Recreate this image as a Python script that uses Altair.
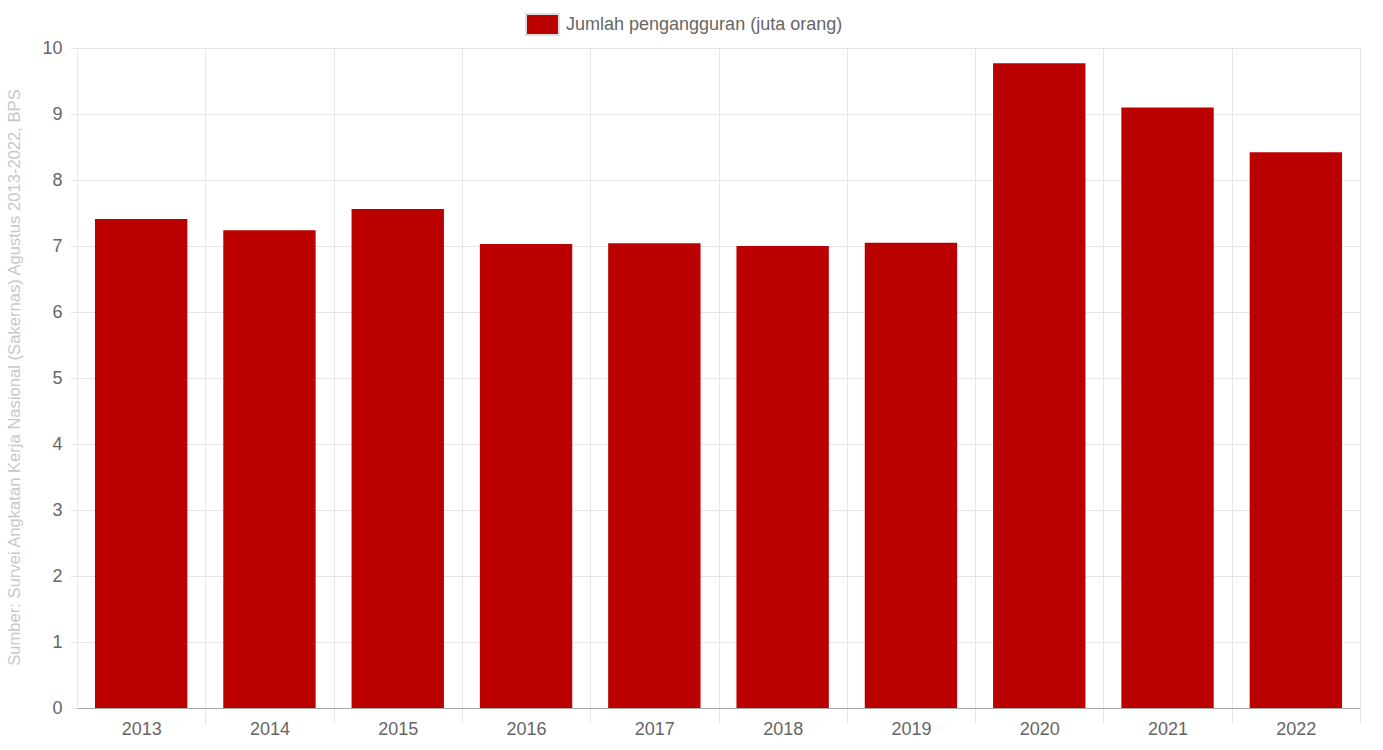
import altair as alt
import pandas as pd

years = ["2013", "2014", "2015", "2016", "2017", "2018", "2019", "2020", "2021", "2022"]
values = [7.41, 7.24, 7.56, 7.03, 7.04, 7.00, 7.05, 9.77, 9.10, 8.42]
series_name = "Jumlah pengangguran (juta orang)"
source_text = "Sumber: Survei Angkatan Kerja Nasional (Sakernas) Agustus 2013-2022, BPS"

df = pd.DataFrame({"year": years, "value": values, "series": [series_name] * len(years)})

FONT = "Liberation Sans"
rect_path = "M-1,-0.636H1V0.636H-1Z"
hide_extra = {"condition": {"test": "datum.extra", "value": 0}, "value": 1}

chart = alt.Chart(df).mark_bar(width=alt.RelativeBandSize(0.72)).encode(
    x=alt.X("year:N", sort=years,
            scale=alt.Scale(paddingInner=0, paddingOuter=0),
            axis=alt.Axis(title=None, labelAngle=0, tickBand="extent",
                          grid=True, gridColor="#e6e6e6", tickColor="#e6e6e6",
                          gridOpacity=hide_extra, tickOpacity=hide_extra,
                          tickSize=15, domainColor="#aaaaaa", labelColor="#666666",
                          labelFontSize=18, labelFont=FONT, labelPadding=-3)),
    y=alt.Y("value:Q", scale=alt.Scale(domain=[0, 10], nice=False),
            axis=alt.Axis(title=source_text, values=list(range(0, 11)), format="d",
                          grid=True, gridColor="#e6e6e6", tickColor="#e6e6e6",
                          tickSize=7, domainColor="#e6e6e6", labelColor="#666666",
                          labelFontSize=18, labelFont=FONT, labelPadding=8,
                          titleColor="#c8c8c8", titleFontSize=16.6, titleFont=FONT,
                          titleFontWeight="normal", titleAngle=270, titleX=-63, titleY=329,
                          titleAlign="center", titleBaseline="middle", titleLimit=0)),
    color=alt.Color("series:N", scale=alt.Scale(range=["#bb0000"]),
                    legend=alt.Legend(title=None, orient="none", legendX=448, legendY=-41,
                                      symbolType=rect_path, symbolSize=1089,
                                      symbolStrokeColor="#dddddd", symbolStrokeWidth=2,
                                      symbolOpacity=1, labelLimit=0,
                                      labelFontSize=18, labelFont=FONT, labelColor="#666666",
                                      labelOffset=6, padding=0)),
).properties(
    width=1283, height=660,
    padding={"left": 77, "top": 48, "right": 23, "bottom": 42},
    autosize=alt.AutoSizeParams(type="none"),
).configure_view(stroke=None)

chart.save("out.html", embed_options={"renderer": "svg", "actions": False})
